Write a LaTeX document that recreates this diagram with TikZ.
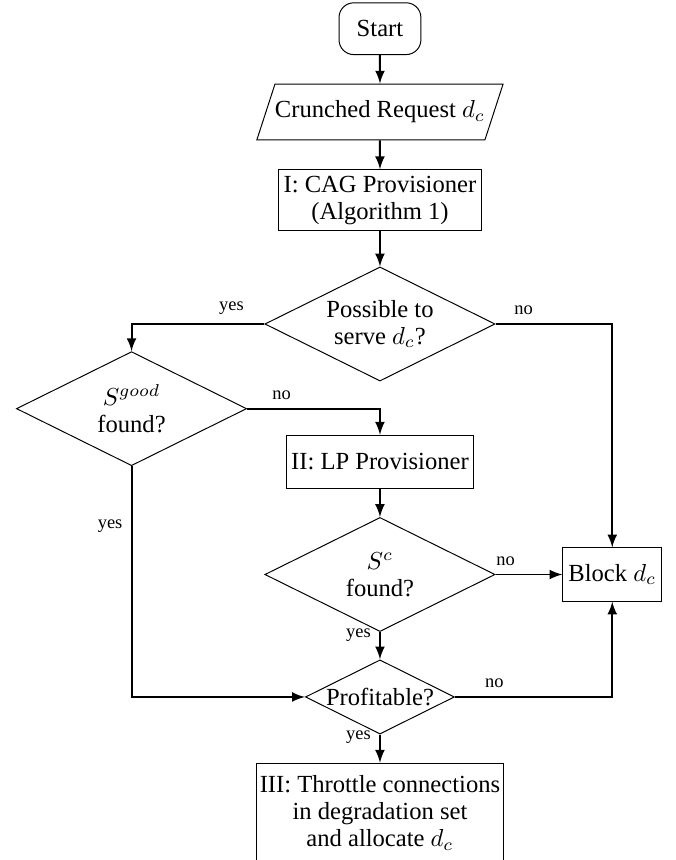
\documentclass[tikz,border=0pt]{standalone}
\usepackage{fontspec}
\setmainfont{Liberation Serif}
\usetikzlibrary{shapes.geometric,arrows}

\begin{document}
\begin{tikzpicture}[
  every node/.style={font=\fontsize{10}{11}\selectfont},
  startbox/.style={draw, rounded corners=6pt, minimum width=1.17cm, minimum height=0.74cm},
  iobox/.style={draw, trapezium, trapezium left angle=72, trapezium right angle=108,
    inner xsep=0pt, inner ysep=6.8pt},
  procbox/.style={draw, align=center, inner sep=1.5pt},
  decision/.style={draw, diamond, aspect=2, inner sep=0pt, align=center,
    minimum width=3.29cm, minimum height=1.63cm},
  flow/.style={thick, -latex},
  lbl/.style={font=\fontsize{7.5}{9}\selectfont}
]
\useasboundingbox (-5.43,0) rectangle (4.22,-12.29);

\node[startbox] (start) at (0,-0.41) {Start};
\node[iobox] (req) at (0,-1.60) {Crunched Request $d_c$};
\node[procbox, minimum width=2.90cm, minimum height=0.87cm] (cag) at (0,-2.86) {I: CAG Provisioner\\(Algorithm 1)};
\node[decision] (serve) at (0,-4.63) {Possible to\\serve $d_c$?};
\node[decision] (good) at (-3.55,-5.84) {$S^{good}$\\found?};
\node[procbox, minimum width=2.66cm, minimum height=0.76cm] (lp) at (0,-6.60) {II: LP Provisioner};
\node[decision] (found) at (0,-8.21) {$S^{c}$\\found?};
\node[procbox, minimum width=1.41cm, minimum height=0.76cm] (block) at (3.32,-8.21) {Block $d_c$};
\node[decision, minimum width=2.13cm, minimum height=1.06cm] (profit) at (0,-9.96) {Profitable?};
\node[procbox, inner ysep=5pt, minimum width=3.54cm, anchor=north] (alloc) at (0,-10.90) {III: Throttle connections\\in degradation set\\and allocate $d_c$};

% draw the arrows
\draw[flow] (start) -- (req);
\draw[flow] (req) -- (cag);
\draw[flow] (cag) -- (serve);
\draw[flow] (serve.west) -| node[lbl, pos=0.124, above] {yes} (good.north);
\draw[flow] (serve.east) -| node[lbl, pos=0.12, above] {no} (block.north);
\draw[flow] (good.east) -| node[lbl, pos=0.13, above] {no} (lp.north);
\draw[flow] (good.south) |- node[lbl, pos=0.13, left] {yes} (profit.west);
\draw[flow] (lp) -- (found);
\draw[flow] (found.east) -- node[lbl, pos=0.15, above] {no} (block.west);
\draw[flow] (found.south) -- node[lbl, pos=0.1, left] {yes} (profit.north);
\draw[flow] (profit.east) -| node[lbl, pos=0.125, above] {no} (block.south);
\draw[flow] (profit.south) -- node[lbl, pos=0.1, left] {yes} (alloc.north);

\end{tikzpicture}
\end{document}
